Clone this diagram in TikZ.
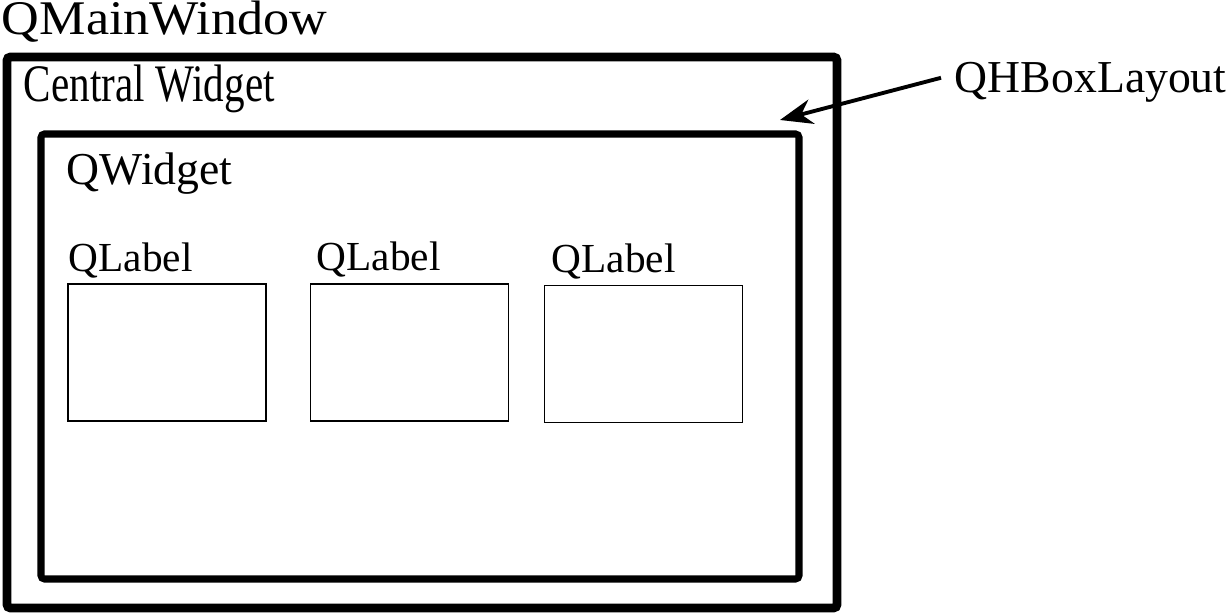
\documentclass[tikz,border=0pt]{standalone}
\usepackage{fontspec}
\usepackage{graphicx}
\setmainfont{Liberation Serif}
\usetikzlibrary{arrows.meta, positioning}
\definecolor{inkblack}{HTML}{000000}

\tikzset{
  winframe/.style={draw=inkblack, line width=5pt, rounded corners=2pt},
  widgetframe/.style={draw=inkblack, line width=4pt, rounded corners=2pt},
  labelbox/.style={draw=inkblack, line width=1.1pt, minimum width=3.96cm, minimum height=2.74cm, inner sep=0pt},
  caption/.style={anchor=base west, inner sep=0pt, text=inkblack, font=\fontsize{26}{30}\selectfont},
  labelcap/.style={caption, font=\fontsize{23.5}{28}\selectfont}
}

\begin{document}
\begin{tikzpicture}[>={Stealth[length=6.5mm, width=5mm]}, line width=2.2pt]

\useasboundingbox (0,0) rectangle (24.54,12.28);

% QMainWindow frame
\draw[winframe] (0.14,0.12) rectangle (16.74,11.14);
\node[caption] (mainwin) at (0,11.58) {\scalebox{1.08}[1]{\fontsize{27.5}{32}\selectfont QMainWindow}};
\node[caption] (central) at (0.44,10.24) {\scalebox{0.78}[1]{\fontsize{30}{34}\selectfont Central Widget}};

% QWidget frame
\draw[widgetframe] (0.82,0.70) rectangle (15.98,9.60);
\node[caption] (qwidget) at (1.30,8.58) {QWidget};

% QLabel boxes
\node[labelbox] (boxa) at (3.34,5.23) {};
\node[labelbox] (boxb) at (8.19,5.23) {};
\node[labelbox] (boxc) at (12.87,5.20) {};
\node[labelcap] (capa) at (1.34,6.84) {QLabel};
\node[labelcap] (capb) at (6.30,6.86) {QLabel};
\node[labelcap] (capc) at (11.00,6.82) {QLabel};

% Layout pointer
\node[caption] (hbox) at (19.06,10.42) {QHBoxLayout};
\coordinate (hboxtip) at (15.60,9.88);
\draw[inkblack, ->] ([xshift=-2.4mm,yshift=1mm]hbox.west) -- (hboxtip);

\end{tikzpicture}
\end{document}
